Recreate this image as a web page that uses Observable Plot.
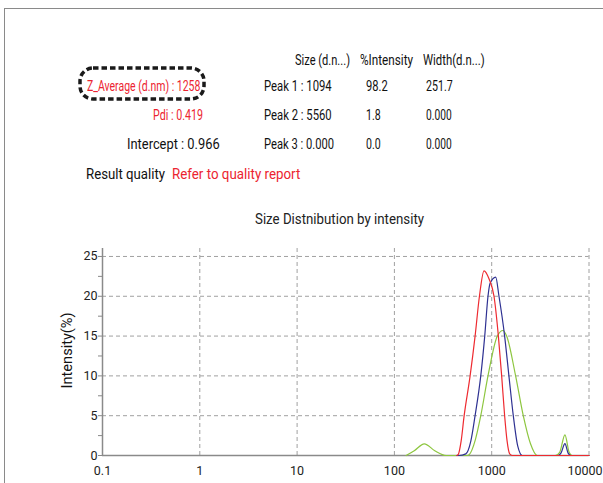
<!DOCTYPE html>
<html><head><meta charset="utf-8">
<script src="https://cdn.jsdelivr.net/npm/d3@7"></script>
<script src="https://cdn.jsdelivr.net/npm/@observablehq/plot@0.6"></script>
<style>
body{margin:0;background:#fff;}
#page{position:relative;width:603px;height:483px;overflow:hidden;font-family:Roboto,"Liberation Sans",sans-serif;}
.t{position:absolute;white-space:nowrap;font-size:15px;line-height:15px;color:#111;transform-origin:0 50%;}
.r{color:#ec2430;}
#frame{position:absolute;left:4px;top:8px;width:610px;height:490px;border-top:1.5px solid #8a8a8a;border-left:1.5px solid #8a8a8a;}
#chart{position:absolute;left:0;top:200px;}
</style></head><body><div id="page"><div id="frame"></div></div>
<script>
// ---- header data ----
const headers = ["Size (d.n...)", "%Intensity", "Width(d.n...)"];
const peakNames = ["Peak 1", "Peak 2", "Peak 3"];
const peakSize = ["1094", "5560", "0.000"];
const peakIntensity = ["98.2", "1.8", "0.0"];
const peakWidth = ["251.7", "0.000", "0.000"];
const zAverage = "1258";
const pdi = "0.419";
const intercept = "0.966";
const qualityLabel = "Result quality";
const qualityText = "Refer to quality report";
const chartTitle = "Size Distnibution by intensity";
const yLabel = "Intensity(%)";

// ---- series data (size d.nm, intensity %) ----
const redSize = [437, 452, 485, 521, 600, 675, 748, 834, 938, 1056, 1171, 1266, 1358, 1440, 1530, 1620, 10000];
const redIntensity = [0, 0.1, 1.8, 5, 10, 15, 20, 23.2, 22.2, 20, 15, 10, 5, 1.8, 0.2, 0, 0];
const blueSize = [437, 460, 542, 610, 675, 772, 848, 916, 961, 1099, 1188, 1358, 1503, 1667, 1850, 2062, 4800, 5150, 5660, 6100, 6500, 10000];
const blueIntensity = [0, 0, 0.2, 1.8, 5, 10, 15, 20, 21.6, 22.4, 20, 15, 10, 5, 1.2, 0, 0, 0.3, 1.5, 0.3, 0, 0];
const greenSize = [132, 160, 203, 260, 340, 560, 586, 680, 772, 916, 1143, 1306, 1424, 1761, 2111, 2500, 2936, 4500, 5000, 5660, 6250, 6700, 10000];
const greenIntensity = [0, 0.6, 1.47, 0.6, 0, 0, 0.1, 2, 5, 10, 15, 15.7, 15, 10, 5, 1.5, 0, 0, 0.4, 2.6, 0.4, 0, 0];
const seriesNames = ["Record 3", "Record 2", "Record 1"];
const seriesColors = ["#8dc63f", "#2e3192", "#ee2a30"];
const xTicks = [0.1, 1, 10, 100, 1000, 10000];
const yTicks = [0, 2.5, 5, 7.5, 10, 12.5, 15, 17.5, 20, 22.5, 25];
const yGrid = [5, 10, 15, 20, 25];
const xGrid = [1, 10, 100, 1000, 10000];

const page = document.getElementById("page");
// place a text with its left edge at x, vertical centre at y, condensed to width w
function txt(s, x, y, w, red) {
  const d = document.createElement("div");
  d.className = "t" + (red ? " r" : "");
  d.textContent = s;
  d.style.left = x + "px";
  d.style.top = (y - 7.4) + "px";
  page.appendChild(d);
  const nat = d.getBoundingClientRect().width;
  d.style.transform = `scaleX(${w / nat})`;
  return d;
}
txt(headers[0], 295, 60, 55); txt(headers[1], 360, 60, 53); txt(headers[2], 423.3, 60, 61.7);
const rowY = [86, 115, 144];
const peakW = [67.7, 67.7, 70];
const intW = [21.7, 14.7, 14.7];
const widW = [26.7, 25.7, 25.7];
peakNames.forEach((p, i) => {
  txt(`${p} : ${peakSize[i]}`, 264, rowY[i], peakW[i]);
  txt(peakIntensity[i], 365.5, rowY[i], intW[i]);
  txt(peakWidth[i], 426, rowY[i], widW[i]);
});
txt(`Z_Average (d.nm) : ${zAverage}`, 86.7, 86, 113.3, true);
txt(`Pdi : ${pdi}`, 153.3, 115, 50, true);
txt(`Intercept : ${intercept}`, 126.7, 144, 92.7);
txt(qualityLabel, 86, 174, 79);
txt(qualityText, 171.7, 174, 128.3, true);
const tt = txt(chartTitle, 255, 219.5, 169);
tt.style.color = "#222";
const yl = txt(yLabel, 29, 351, 76);
yl.style.transformOrigin = "50% 50%";
yl.style.left = (67 - 38) + "px";
yl.style.width = "76px";
yl.style.textAlign = "center";
{
  const nat = 76 / parseFloat(yl.style.transform.replace("scaleX(", ""));
  yl.style.transform = `rotate(-90deg) scaleX(${76 / nat})`;
}

// dashed rounded box
const ns = "http://www.w3.org/2000/svg";
const box = document.createElementNS(ns, "svg");
box.setAttribute("width", 603); box.setAttribute("height", 200);
box.style.position = "absolute"; box.style.left = "0"; box.style.top = "0";
const rect = document.createElementNS(ns, "rect");
rect.setAttribute("x", 80); rect.setAttribute("y", 68); rect.setAttribute("width", 124); rect.setAttribute("height", 31);
rect.setAttribute("rx", 13); rect.setAttribute("fill", "none"); rect.setAttribute("stroke", "#1a1a1a");
rect.setAttribute("stroke-width", 3.5); rect.setAttribute("stroke-dasharray", "5.5,3");
box.appendChild(rect); page.appendChild(box);

// rows
const rows = [];
function add(name, sizes, vals) { sizes.forEach((s, i) => rows.push({series: name, size: s, intensity: vals[i]})); }
add(seriesNames[0], greenSize, greenIntensity);
add(seriesNames[1], blueSize, blueIntensity);
add(seriesNames[2], redSize, redIntensity);

const chart = Plot.plot({
  width: 603, height: 283,
  marginLeft: 102, marginRight: 14.5, marginTop: 48, marginBottom: 28,
  style: {fontFamily: 'Roboto,"Liberation Sans",sans-serif', fontSize: "12.5px", color: "#222", background: "transparent"},
  x: {type: "log", domain: [0.1, 10000]},
  y: {domain: [0, 26]},
  color: {domain: seriesNames, range: seriesColors},
  marks: [
    Plot.gridX(xGrid, {stroke: "#a0a0a0", strokeOpacity: 1, strokeDasharray: "4,3"}),
    Plot.gridY(yGrid, {stroke: "#a0a0a0", strokeOpacity: 1, strokeDasharray: "4,3"}),
    Plot.axisY(yTicks, {tickSize: 4, tickPadding: 1, stroke: "#888", tickFormat: d => d % 5 === 0 ? String(d) : "", label: null}),
    Plot.axisX(xTicks.slice(0, -1), {tickSize: 0, tickPadding: 11, tickFormat: d => String(d), label: null}),
    Plot.axisX(xTicks.slice(-1), {tickSize: 0, tickPadding: 11, tickFormat: d => String(d), label: null, dx: -4}),
    Plot.ruleY([0], {stroke: "#8a8a8a", strokeWidth: 1.5}),
    Plot.ruleX([0.1], {stroke: "#8a8a8a", strokeWidth: 1.5}),
    Plot.line(rows, {x: "size", y: "intensity", z: "series", stroke: "series", curve: "monotone-x", strokeWidth: 1.2})
  ]
});
chart.id = "chart";
page.appendChild(chart);
</script></body></html>
